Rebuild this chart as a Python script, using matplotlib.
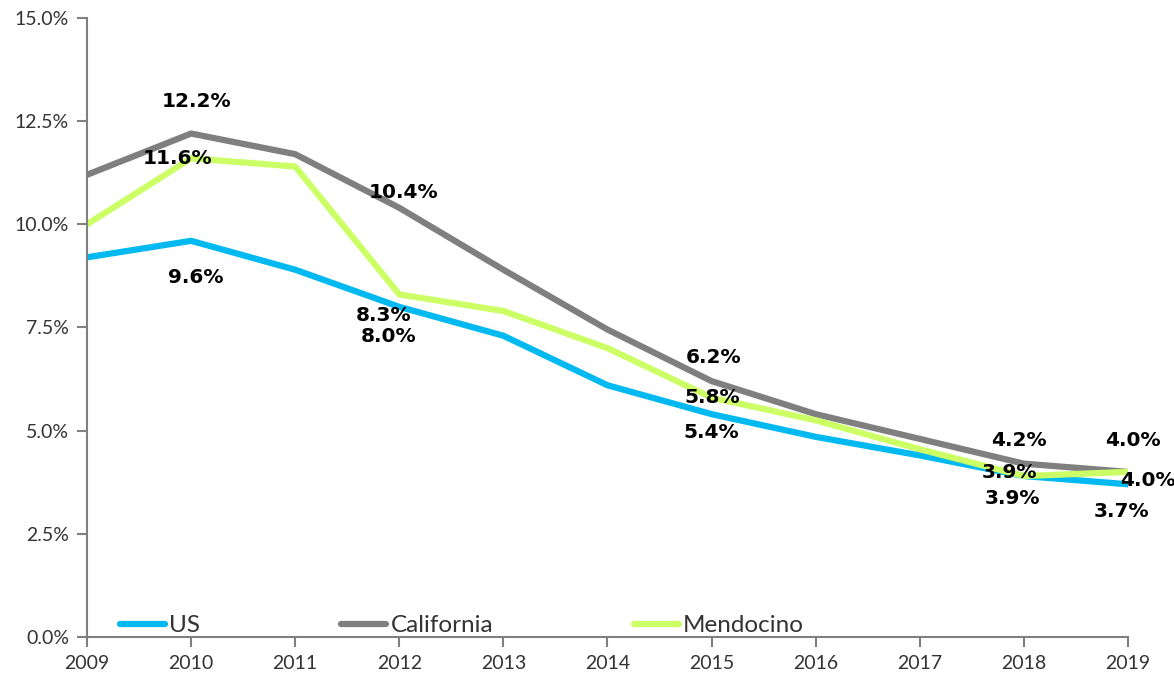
import matplotlib.pyplot as plt
from matplotlib.ticker import FuncFormatter

years = [2009, 2010, 2011, 2012, 2013, 2014, 2015, 2016, 2017, 2018, 2019]
us = [9.2, 9.6, 8.9, 8.0, 7.3, 6.1, 5.4, 4.85, 4.4, 3.9, 3.7]
california = [11.2, 12.2, 11.7, 10.4, 8.9, 7.45, 6.2, 5.4, 4.8, 4.2, 4.0]
mendocino = [10.0, 11.6, 11.4, 8.3, 7.9, 7.0, 5.8, 5.25, 4.55, 3.9, 4.0]

# years that get a value label
label_years = [2010, 2012, 2015, 2018, 2019]

# label offsets in pixels (dx, dy) per series, per labelled year
offsets = {
    'US': [(5, -37), (-11, -30), (0, -18), (-11, -22), (-6, -27)],
    'California': [(5, 32), (4, 15), (2, 24), (-5, 23), (5, 31)],
    'Mendocino': [(-14, 0), (-16, -21), (1, 0), (-14, 4), (20, -9)],
}

series = [('US', us, '#00B9F1'), ('California', california, '#7F7F7F'), ('Mendocino', mendocino, '#CCFF66')]

plt.rcParams['font.family'] = ['Lato', 'DejaVu Sans']

fig = plt.figure(figsize=(11.74, 6.79), dpi=100)
ax = fig.add_axes([0.0741, 0.0619, 0.8867, 0.9116])

for name, vals, color in series:
    ax.plot(years, vals, color=color, linewidth=4.5, label=name, solid_capstyle='round')

for name, vals, color in series:
    for yr, (dx, dy) in zip(label_years, offsets[name]):
        v = vals[years.index(yr)]
        ax.annotate(f'{v:.1f}%', (yr, v), xytext=(dx, dy), textcoords='offset pixels',
                    ha='center', va='center', fontsize=14.5, fontweight='bold', color='black',
                    family='DejaVu Sans')

ax.set_xlim(2009, 2019)
ax.set_ylim(0, 15)
ax.set_xticks(years)
ax.set_yticks([0, 2.5, 5, 7.5, 10, 12.5, 15])
ax.yaxis.set_major_formatter(FuncFormatter(lambda v, p: f'{v:.1f}%'))

for s in ['top', 'right']:
    ax.spines[s].set_visible(False)
for s in ['left', 'bottom']:
    ax.spines[s].set_color('#808080')
    ax.spines[s].set_linewidth(1.5)
ax.tick_params(colors='#808080', width=1.5, length=7, labelsize=14, labelcolor='#333333')
ax.tick_params(axis='y', pad=6)
ax.tick_params(axis='x', pad=6)

ax.legend(loc='lower left', bbox_to_anchor=(0.011, -0.034), ncol=3, frameon=False, fontsize=17.5,
          handlelength=1.85, handletextpad=0.17, columnspacing=5.8, labelcolor='#333333')

fig.savefig('out.png', dpi=100)
